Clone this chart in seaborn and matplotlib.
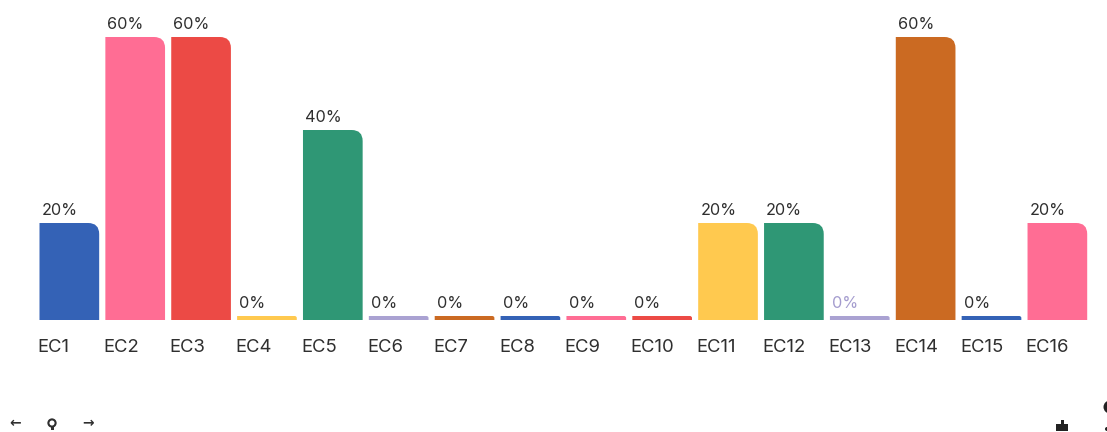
import matplotlib
matplotlib.use("Agg")
import matplotlib.pyplot as plt
import matplotlib.transforms as mtrans
from matplotlib.path import Path
from matplotlib.patches import PathPatch, Circle, Rectangle
import pandas as pd
import seaborn as sns

labels = ["EC1", "EC2", "EC3", "EC4", "EC5", "EC6", "EC7", "EC8",
          "EC9", "EC10", "EC11", "EC12", "EC13", "EC14", "EC15", "EC16"]
values = [20, 60, 60, 0, 40, 0, 0, 0, 0, 0, 20, 20, 0, 60, 0, 20]
colors = ["#3462b6", "#ff6d94", "#ec4a45", "#ffc94f", "#2f9775", "#aaa2d2", "#cb6a22",
          "#3462b6", "#ff6d94", "#ec4a45", "#ffc94f", "#2f9775", "#aaa2d2", "#cb6a22",
          "#3462b6", "#ff6d94"]

W, H = 1107, 432
px_per_pct = 4.65   # 60% bar is about 279px tall
stub = 4 / px_per_pct   # zero bars still show a 4px sliver
ink = "#2f2f2f"

sns.set_theme(style="white")
plt.rcParams["font.family"] = ["Inter", "DejaVu Sans"]

fig = plt.figure(figsize=(W / 100, H / 100), dpi=100)
ax = fig.add_axes([36.4 / W, (H - 320) / H, 1053.9 / W, 320 / H])

df = pd.DataFrame({"label": labels, "value": values})
sns.barplot(data=df, x="label", y="value", hue="label", palette=colors,
            width=0.906, saturation=1, legend=False, ax=ax)


# seaborn draws plain rectangles, swap them for the rounded top-right shape
def rounded_bar(x, w, top, bottom, rx, ry):
    height = top - bottom
    if height < ry:   # slivers only get a small nick
        rx, ry = rx * 0.2, height * 0.5
    verts = [(x, bottom), (x, top), (x + w - rx, top), (x + w, top), (x + w, top - ry),
             (x + w, bottom), (x, bottom)]
    codes = [Path.MOVETO, Path.LINETO, Path.LINETO, Path.CURVE3, Path.CURVE3,
             Path.LINETO, Path.CLOSEPOLY]
    return Path(verts, codes)


bars = list(ax.patches)
for bar, col, val, name in zip(bars, colors, values, labels):
    x, w = bar.get_x(), bar.get_width()
    bar.remove()
    ax.add_patch(PathPatch(rounded_bar(x, w, val, -stub, 11 / 65.87, 11 / px_per_pct),
                           facecolor=col, edgecolor="none"))
    txt_col = "#a49cce" if name == "EC13" else ink
    ax.annotate(f"{val}%", (x, val), xytext=(1.5, 5.8), textcoords="offset points",
                ha="left", va="baseline", fontsize=11.7, color=txt_col)

ax.set_xlim(-0.5, 15.5)
ax.set_ylim(-stub, 316 / px_per_pct)
ax.set_xlabel("")
ax.set_ylabel("")
ax.set_yticks([])
sns.despine(ax=ax, left=True, bottom=True)

ax.tick_params(axis="x", length=0, pad=13.5, labelsize=13.3, labelcolor=ink)
shift = mtrans.ScaledTranslation(-31.5 / 100, 0, fig.dpi_scale_trans)
for lab in ax.get_xticklabels():
    lab.set_ha("left")
    lab.set_transform(lab.get_transform() + shift)

# toolbar leftovers along the bottom edge
fig.text(15 / W, 1 - 423 / H, "←", fontsize=10, ha="center", va="center", color=ink,
         family="DejaVu Sans", fontweight="bold")
fig.text(88 / W, 1 - 423 / H, "→", fontsize=10, ha="center", va="center", color=ink,
         family="DejaVu Sans", fontweight="bold")
overlay = fig.add_axes([0, 0, 1, 1], facecolor="none")
overlay.set_xlim(0, W)
overlay.set_ylim(H, 0)
overlay.axis("off")
overlay.add_patch(Circle((52, 423), 3.6, facecolor="none", edgecolor=ink, linewidth=1.5))
overlay.add_patch(Rectangle((50.5, 427), 3, 2.5, facecolor=ink, edgecolor="none"))
overlay.add_patch(Rectangle((1056, 424), 12, 7, facecolor="#222222", edgecolor="none"))
overlay.add_patch(Rectangle((1061, 420), 3, 5, facecolor="#222222", edgecolor="none"))
overlay.add_patch(Circle((1110, 407), 6.5, facecolor="#222222", edgecolor="none"))
overlay.add_patch(Circle((1107, 429), 2, facecolor="#222222", edgecolor="none"))

fig.savefig("out.png", dpi=100)
